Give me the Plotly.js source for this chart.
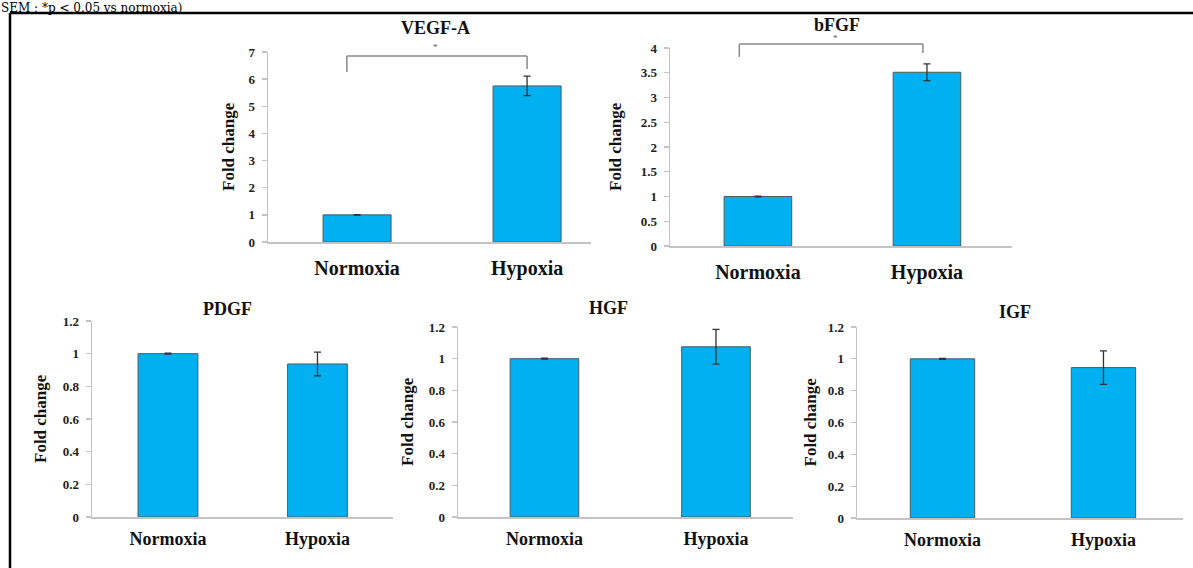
<!DOCTYPE html>
<html>
<head>
<meta charset="utf-8">
<script src="https://cdn.plot.ly/plotly-3.0.1.min.js"></script>
<style>html,body{margin:0;padding:0;background:#fff;}#chart{width:1193px;height:568px;}</style>
</head>
<body>
<div id="chart"></div>
<script>
// ---- data ----
const categories = ['Normoxia', 'Hypoxia'];
const panelTitles = ['VEGF-A', 'bFGF', 'PDGF', 'HGF', 'IGF'];
const vegfMean = [1, 5.75];
const vegfSem = [0.01, 0.36];
const bfgfMean = [1, 3.51];
const bfgfSem = [0.005, 0.17];
const pdgfMean = [1, 0.937];
const pdgfSem = [0.003, 0.073];
const hgfMean = [1, 1.075];
const hgfSem = [0.003, 0.11];
const igfMean = [1, 0.945];
const igfSem = [0.003, 0.105];
const vegfTicks = [0, 1, 2, 3, 4, 5, 6, 7];
const bfgfTicks = [0, 0.5, 1, 1.5, 2, 2.5, 3, 3.5, 4];
const smallTicks = [0, 0.2, 0.4, 0.6, 0.8, 1, 1.2];
const yTitle = 'Fold change';
const sigMark = '*';
const noteText = 'SEM ; *p < 0.05 vs normoxia)';

// ---- layout helpers ----
const W = 1193, H = 568;
const px = v => v / W;
const py = v => 1 - v / H;
const FONT = 'Liberation Serif, Times New Roman, serif';

const means = [vegfMean, bfgfMean, pdgfMean, hgfMean, igfMean];
const sems = [vegfSem, bfgfSem, pdgfSem, hgfSem, igfSem];
const ticks = [vegfTicks, bfgfTicks, smallTicks, smallTicks, smallTicks];

// panel geometry (pixels)
const geo = [
  {x0: 268, x1: 591, yb: 242, yt: 52, xr: [-0.524, 1.376], title: [435, 28], ytx: 228, top: true},
  {x0: 670, x1: 1012, yb: 246, yt: 48, xr: [-0.52, 1.503], title: [837, 25], ytx: 615, top: true},
  {x0: 92, x1: 393, yb: 517, yt: 321, xr: [-0.508, 1.505], title: [227, 309], ytx: 40, top: false},
  {x0: 458, x1: 793, yb: 517, yt: 327, xr: [-0.504, 1.449], title: [608, 308], ytx: 407, top: false},
  {x0: 857, x1: 1183, yb: 518, yt: 327, xr: [-0.531, 1.494], title: [1015, 312], ytx: 810, top: false}
];

const traces = [];
const layout = {
  width: W, height: H,
  margin: {l: 0, r: 0, t: 0, b: 0},
  paper_bgcolor: '#fff', plot_bgcolor: '#fff',
  showlegend: false,
  annotations: [], shapes: []
};

geo.forEach((g, i) => {
  const n = i === 0 ? '' : String(i + 1);
  traces.push({
    type: 'bar',
    x: [0, 1],
    y: means[i],
    width: 0.4,
    xaxis: 'x' + n, yaxis: 'y' + n,
    marker: {color: '#00B0F0', line: {color: '#4d5a63', width: 1}},
    error_y: {type: 'data', array: sems[i], visible: true, color: '#333', thickness: 1.3, width: 3.5},
    hoverinfo: 'none'
  });
  const tv = ticks[i];
  layout['xaxis' + n] = {
    domain: [px(g.x0), px(g.x1)],
    anchor: 'y' + n,
    range: g.xr,
    tickvals: [0, 1], ticktext: categories,
    showline: true, linecolor: '#c4c4c4', linewidth: 1.5,
    ticks: '', showgrid: false, zeroline: false,
    ticklabelstandoff: g.top ? 7 : 5,
    tickfont: {family: FONT, size: g.top ? 20 : 18, color: '#111', weight: 700}
  };
  layout['yaxis' + n] = {
    domain: [py(g.yb), py(g.yt)],
    anchor: 'x' + n,
    range: [tv[0], tv[tv.length - 1]],
    tickvals: tv,
    showline: true, linecolor: '#c4c4c4', linewidth: 1.5,
    ticks: 'outside', ticklen: 5, tickcolor: '#c4c4c4', tickwidth: 1.3,
    ticklabelstandoff: 4,
    showgrid: false, zeroline: false,
    tickfont: {family: FONT, size: 13, color: '#222', weight: 700}
  };
  layout.annotations.push({
    xref: 'paper', yref: 'paper', x: px(g.title[0]), y: py(g.title[1]),
    xanchor: 'center', yanchor: 'middle', showarrow: false,
    text: panelTitles[i],
    font: {family: FONT, size: 18, color: '#111', weight: 700}
  });
  layout.annotations.push({
    xref: 'paper', yref: 'paper', x: px(g.ytx), y: py((g.yb + g.yt) / 2),
    xanchor: 'center', yanchor: 'middle', showarrow: false, textangle: -90,
    text: yTitle,
    font: {family: FONT, size: 17, color: '#111', weight: 700}
  });
});

// significance brackets (top row)
const brackets = [
  {n: '', ymax: 7, xl: -0.06, xr: 1.0, yt: 6.85, yl: 6.26, yr: 6.37, sx: 0.46, sy: 7.18},
  {n: '2', ymax: 4, xl: -0.11, xr: 0.976, yt: 4.08, yl: 3.82, yr: 3.90, sx: 0.456, sy: 4.2}
];
brackets.forEach(b => {
  const xr = 'x' + b.n, yr = 'y' + b.n + ' domain';
  const line = {color: '#8a8a8a', width: 1.5};
  layout.shapes.push({type: 'line', xref: xr, yref: yr, x0: b.xl, x1: b.xr, y0: b.yt / b.ymax, y1: b.yt / b.ymax, line});
  layout.shapes.push({type: 'line', xref: xr, yref: yr, x0: b.xl, x1: b.xl, y0: b.yt / b.ymax, y1: b.yl / b.ymax, line});
  layout.shapes.push({type: 'line', xref: xr, yref: yr, x0: b.xr, x1: b.xr, y0: b.yt / b.ymax, y1: b.yr / b.ymax, line});
  layout.annotations.push({
    xref: xr, yref: yr, x: b.sx, y: b.sy / b.ymax, showarrow: false,
    xanchor: 'center', yanchor: 'middle', text: sigMark,
    font: {family: FONT, size: 9, color: '#555'}
  });
});

// frame lines
layout.shapes.push({type: 'line', xref: 'paper', yref: 'paper', x0: px(10), x1: px(1193), y0: py(13), y1: py(13), line: {color: '#000', width: 2.5}});
layout.shapes.push({type: 'line', xref: 'paper', yref: 'paper', x0: px(10), x1: px(10), y0: py(13), y1: py(568), line: {color: '#000', width: 2.5}});

// caption text at top (fully visible)
layout.annotations.push({
  xref: 'paper', yref: 'paper', x: px(0), y: py(0), xanchor: 'left', yanchor: 'top',
  showarrow: false, text: noteText, borderpad: 0,
  font: {family: 'DejaVu Serif, serif', size: 12, color: '#000'}
});

Plotly.newPlot('chart', traces, layout, {staticPlot: true, displayModeBar: false});
</script>
</body>
</html>
